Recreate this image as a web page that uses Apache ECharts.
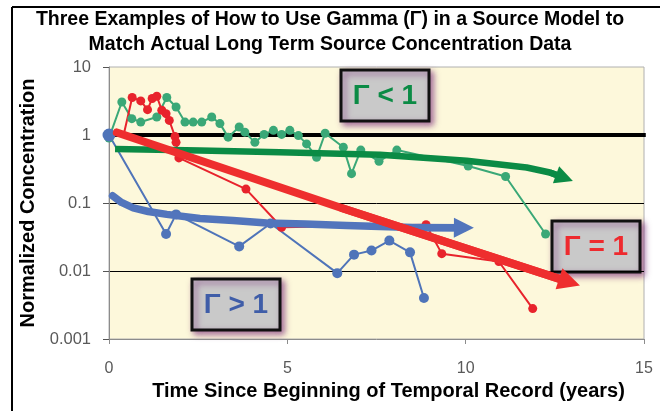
<!DOCTYPE html>
<html>
<head>
<meta charset="utf-8">
<script src="https://cdn.jsdelivr.net/npm/echarts@6/dist/echarts.min.js"></script>
<style>
  html, body { margin: 0; padding: 0; background: #fff; }
  #chart { width: 660px; height: 411px; }
</style>
</head>
<body>
<div id="chart"></div>
<script>
// Measured concentrations, [years, normalized concentration]
const greenObserved = [
  [0, 0.9], [0.36, 3.06], [0.64, 1.74], [0.89, 1.55], [1.34, 1.84], [1.62, 3.56],
  [1.88, 2.58], [2.13, 1.55], [2.36, 1.55], [2.60, 1.55], [2.88, 1.84], [3.11, 1.47],
  [3.34, 0.93], [3.65, 1.31], [3.81, 1.10], [4.09, 0.78], [4.35, 1.02], [4.61, 1.17],
  [4.84, 1.02], [5.07, 1.17], [5.31, 0.98], [5.54, 0.74], [5.82, 0.47], [6.06, 1.06],
  [6.57, 0.66], [6.80, 0.27], [7.06, 0.60], [7.57, 0.41], [8.07, 0.60], [10.07, 0.35],
  [11.12, 0.245], [12.24, 0.035]
];
const redObserved = [
  [0.40, 0.95], [0.65, 3.56], [0.89, 3.17], [1.08, 2.36], [1.21, 3.44], [1.34, 3.72],
  [1.48, 2.31], [1.60, 2.06], [1.69, 1.64], [1.85, 0.95], [1.88, 0.78], [1.96, 0.46],
  [3.84, 0.16], [4.84, 0.044], [8.89, 0.048], [9.33, 0.018], [10.93, 0.0138], [11.88, 0.0028]
];
const blueObserved = [
  [0, 1], [1.60, 0.035], [1.88, 0.068], [3.65, 0.023], [4.53, 0.05], [6.40, 0.0093],
  [6.87, 0.0174], [7.36, 0.020], [7.86, 0.028], [8.44, 0.0188], [8.83, 0.004]
];

// Source model curves (gamma < 1, gamma = 1, gamma > 1)
const greenModel = [
  [0.17, 0.625], [2.55, 0.59], [4.79, 0.558], [7.6, 0.514], [10.03, 0.419],
  [11.71, 0.333], [12.36, 0.281], [12.77, 0.234]
];
const redModel = [[0.22, 1.09], [6.5, 0.085], [12.91, 0.00685]];
const blueModel = [
  [0.10, 0.128], [0.35, 0.102], [0.68, 0.085], [1.1, 0.075], [1.62, 0.068],
  [2.55, 0.059], [3.48, 0.0554], [4.42, 0.051], [5.5, 0.049], [6.66, 0.0468],
  [8.53, 0.0437], [9.95, 0.0432]
];
const referenceLevel = [[0.1, 1], [15.05, 1]];

const xTicks = { min: 0, max: 15, interval: 5 };
const yRange = { min: 0.001, max: 10 };

const titleText = 'Three Examples of How to Use Gamma (\u0393) in a Source Model to\nMatch Actual Long Term Source Concentration Data';
const boxLabels = ['\u0393 < 1', '\u0393 = 1', '\u0393 > 1'];

const FONT = 'Liberation Sans, Arial, sans-serif';

const chart = echarts.init(document.getElementById('chart'), null, { renderer: 'canvas' });

function observedSeries(name, data, color, size, z) {
  return {
    name, type: 'line', data, z,
    symbol: 'circle', symbolSize: size, showAllSymbol: true,
    itemStyle: { color },
    lineStyle: { color, width: 2 },
    emphasis: { disabled: true },
    animation: false
  };
}

// Model curve drawn as a polyline
function modelCurve(name, coords, color, width, cap, z) {
  return {
    name, type: 'lines', coordinateSystem: 'cartesian2d', polyline: true, z,
    data: [{ coords }],
    lineStyle: { color, width, opacity: 1, cap, join: 'round' },
    emphasis: { disabled: true },
    animation: false, silent: true
  };
}

// Arrowhead at the end of a model curve, oriented along its last segment
function modelArrow(name, coords, color, width, arrow, z) {
  return {
    name: name + ' arrow', type: 'lines', coordinateSystem: 'cartesian2d', z,
    data: [{ coords: coords.slice(-2) }],
    symbol: ['none', 'triangle'], symbolSize: arrow,
    itemStyle: { color },
    lineStyle: { color, width, opacity: 1, curveness: 0 },
    emphasis: { disabled: true },
    animation: false, silent: true
  };
}

function annotation(x, y, text, color) {
  return {
    type: 'group', x, y, z: 100,
    children: [
      {
        type: 'rect', shape: { x: 0, y: 0, width: 88, height: 51 },
        style: {
          fill: '#C9C9C9', stroke: '#111', lineWidth: 3,
          shadowColor: 'rgba(120,40,120,0.65)', shadowBlur: 6, shadowOffsetX: 3, shadowOffsetY: 3
        }
      },
      {
        type: 'text', x: 44, y: 26,
        style: {
          text, fill: color, font: 'bold 28px ' + FONT,
          align: 'center', verticalAlign: 'middle'
        }
      }
    ]
  };
}

const redPoints = redObserved.map((p, i) => i === 0 ? { value: p, symbolSize: 0 } : p);
const bluePoints = blueObserved.map((p, i) => i === 0 ? { value: p, symbolSize: 13 } : p);

chart.setOption({
  animation: false,
  backgroundColor: '#fff',
  title: {
    text: titleText, left: 'center', top: 7, padding: 0,
    textStyle: { fontFamily: FONT, fontSize: 19.5, fontWeight: 'bold', color: '#000', lineHeight: 25 }
  },
  grid: {
    left: 109, right: 16, top: 67, bottom: 72,
    show: true, backgroundColor: '#FDF8DB', borderColor: '#B0B0B0', borderWidth: 1
  },
  xAxis: {
    type: 'value', min: xTicks.min, max: xTicks.max, interval: xTicks.interval,
    name: 'Time Since Beginning of Temporal Record (years)',
    nameLocation: 'middle', nameGap: 37,
    nameTextStyle: { fontFamily: FONT, fontSize: 20, fontWeight: 'bold', color: '#000', padding: [0, 0, 0, 24] },
    axisLine: { lineStyle: { color: '#8C8C8C', width: 1 } },
    axisTick: { show: true, length: 5, lineStyle: { color: '#8C8C8C' } },
    axisLabel: { margin: 22, fontFamily: FONT, fontSize: 16, color: '#595959' },
    splitLine: { show: false }
  },
  yAxis: {
    type: 'log', logBase: 10, min: yRange.min, max: yRange.max,
    name: 'Normalized Concentration',
    nameLocation: 'middle', nameGap: 70,
    nameTextStyle: { fontFamily: FONT, fontSize: 20, fontWeight: 'bold', color: '#000' },
    axisLine: { show: true, lineStyle: { color: '#8C8C8C', width: 1 } },
    axisTick: { show: true, length: 6, lineStyle: { color: '#555' } },
    axisLabel: { margin: 18, fontFamily: FONT, fontSize: 16.5, color: '#595959' },
    splitLine: { show: true, showMinLine: false, showMaxLine: false, lineStyle: { color: '#000', width: 1 } },
    minorTick: { show: false }
  },
  series: [
    {
      name: 'Reference', type: 'line', data: referenceLevel, z: 1, clip: false,
      symbol: 'none', lineStyle: { color: '#000', width: 4, cap: 'butt' },
      emphasis: { disabled: true }, animation: false, silent: true
    },
    observedSeries('Observed A', greenObserved, '#3AA877', 9, 2),
    observedSeries('Observed B', redPoints, '#E8232C', 9, 2),
    observedSeries('Observed C', bluePoints, '#4F74B9', 10, 2),
    modelCurve('Model \u0393 > 1', blueModel, '#5275BC', 7.5, 'round', 3),
    modelArrow('Model \u0393 > 1', blueModel, '#5275BC', 7.5, 20, 3),
    modelCurve('Model \u0393 < 1', greenModel, '#0B8B45', 6.5, 'butt', 4),
    modelArrow('Model \u0393 < 1', greenModel, '#0B8B45', 6.5, 18, 4),
    modelCurve('Model \u0393 = 1', redModel, '#EE2E2E', 8, 'round', 5),
    modelArrow('Model \u0393 = 1', redModel, '#EE2E2E', 8, 22, 5)
  ],
  graphic: [
    { type: 'line', shape: { x1: 12, y1: 7, x2: 660, y2: 7 }, style: { stroke: '#000', lineWidth: 2 }, z: 100 },
    { type: 'line', shape: { x1: 12, y1: 7, x2: 12, y2: 411 }, style: { stroke: '#000', lineWidth: 2 }, z: 100 },
    annotation(341, 70, boxLabels[0], '#0B8B45'),
    annotation(552, 221, boxLabels[1], '#EE2A2E'),
    annotation(192, 279, boxLabels[2], '#3F5DA8')
  ]
});
</script>
</body>
</html>
